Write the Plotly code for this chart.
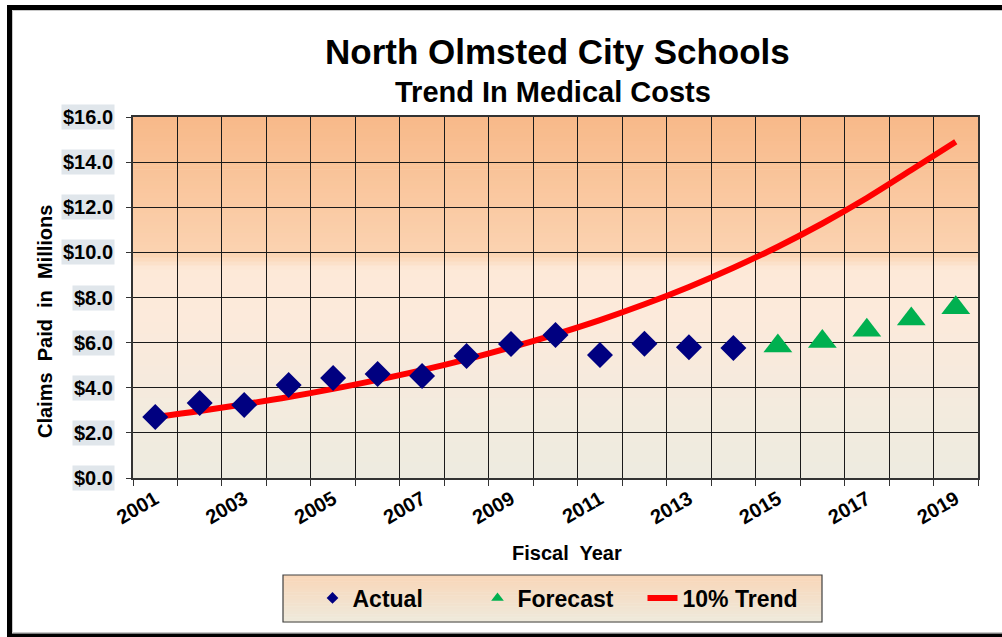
import plotly.graph_objects as go

# ---- data ----
years = list(range(2001, 2020))
actual_years = list(range(2001, 2015))
actual = [2.70, 3.32, 3.24, 4.12, 4.43, 4.61, 4.52, 5.41, 5.94, 6.34, 5.45, 5.95, 5.80, 5.76]
forecast_years = list(range(2015, 2020))
forecast = [5.85, 6.05, 6.55, 7.05, 7.55]
trend = [2.70, 2.97, 3.27, 3.59, 3.95, 4.35, 4.78, 5.26, 5.79, 6.37,
         7.00, 7.70, 8.47, 9.32, 10.25, 11.28, 12.41, 13.65, 14.90]
y_ticks = [0, 2, 4, 6, 8, 10, 12, 14, 16]
x_label_years = years[::2]

FONT = "Liberation Sans, Arial, sans-serif"
W, H = 1002, 637
PLOT_L, PLOT_R, PLOT_T, PLOT_B = 133, 978, 117, 478  # pixels of the plot area
L, T = PLOT_L, PLOT_T
R, B = W - PLOT_R, H - PLOT_B
PW, PH = W - L - R, H - T - B


def px_x(p):  # pixel -> paper x
    return (p - L) / PW


def px_y(p):  # pixel -> paper y
    return (H - B - p) / PH


def lerp(c1, c2, t):
    return tuple(round(a + (b - a) * t) for a, b in zip(c1, c2))


def grad(stops, t):
    for i in range(len(stops) - 1):
        t0, c0 = stops[i]
        t1, c1 = stops[i + 1]
        if t0 <= t <= t1:
            return lerp(c0, c1, (t - t0) / (t1 - t0) if t1 > t0 else 0)
    return stops[-1][1]


fig = go.Figure()

fig.add_trace(go.Scatter(x=years, y=trend, mode="lines", line=dict(color="#ff0000", width=6, shape="spline"),
                         showlegend=False, hoverinfo="skip"))
fig.add_trace(go.Scatter(x=actual_years, y=actual, mode="markers",
                         marker=dict(symbol="diamond", size=20, color="#000080"), showlegend=False))
fig.add_trace(go.Scatter(x=forecast_years, y=forecast, mode="markers",
                         marker=dict(symbol="triangle-up", size=25, color="#00b050"), showlegend=False))

# legend entries
fig.add_trace(go.Scatter(x=[None], y=[None], mode="markers", name="<b>Actual</b>",
                         marker=dict(symbol="diamond", size=9, color="#000080")))
fig.add_trace(go.Scatter(x=[None], y=[None], mode="markers", name="<b>Forecast</b>",
                         marker=dict(symbol="triangle-up", size=11, color="#00b050")))
fig.add_trace(go.Scatter(x=[None], y=[None], mode="lines", name="<b>10% Trend</b>",
                         line=dict(color="#ff0000", width=6)))

shapes = []
plot_stops = [(0.0, (248, 185, 137)), (0.38, (251, 211, 177)), (0.42, (253, 233, 216)),
              (0.55, (252, 234, 219)), (1.0, (237, 235, 224))]
N = 90
for i in range(N):
    t = (i + 0.5) / N
    c = grad(plot_stops, t)
    shapes.append(dict(type="rect", xref="x domain", yref="y domain", x0=0, x1=1,
                       y0=1 - (i + 1) / N - 0.002, y1=1 - i / N,
                       fillcolor="rgb(%d,%d,%d)" % c, line=dict(width=0), layer="below"))

lx0, lx1, ly0, ly1 = 283, 822, 575, 622
leg_stops = [(0.0, (249, 214, 184)), (1.0, (238, 234, 220))]
M = 30
for i in range(M):
    t = (i + 0.5) / M
    c = grad(leg_stops, t)
    top = ly0 + (ly1 - ly0) * i / M
    bot = ly0 + (ly1 - ly0) * (i + 1) / M + 0.5
    shapes.append(dict(type="rect", xref="paper", yref="paper", x0=px_x(lx0), x1=px_x(lx1),
                       y0=px_y(bot), y1=px_y(top), fillcolor="rgb(%d,%d,%d)" % c,
                       line=dict(width=0), layer="below"))
shapes.append(dict(type="rect", xref="paper", yref="paper", x0=px_x(lx0), x1=px_x(lx1),
                   y0=px_y(ly1), y1=px_y(ly0), line=dict(color="#404040", width=1.2)))


# outer frame: left, top, bottom edges only
def edge(xa, ya, xb, yb, color, width):
    return dict(type="line", xref="paper", yref="paper", x0=px_x(xa), y0=px_y(ya),
                x1=px_x(xb), y1=px_y(yb), line=dict(color=color, width=width))


shapes += [edge(12.5, 10.5, 1002, 10.5, "#c8c8c8", 1), edge(12.5, 10.5, 12.5, 632.5, "#c8c8c8", 1),
           edge(12.5, 632.5, 1002, 632.5, "#c8c8c8", 1),
           edge(7, 7.5, 1002, 7.5, "#000000", 5), edge(9.5, 5, 9.5, 637, "#000000", 5),
           edge(7, 635.5, 1002, 635.5, "#000000", 4)]

annotations = [
    dict(text="<b>North Olmsted City Schools</b>", x=px_x(557), y=px_y(52), xref="paper", yref="paper",
         showarrow=False, font=dict(family=FONT, size=35, color="#000"), xanchor="center", yanchor="middle"),
    dict(text="<b>Trend In Medical Costs</b>", x=px_x(553), y=px_y(92), xref="paper", yref="paper",
         showarrow=False, font=dict(family=FONT, size=29, color="#000"), xanchor="center", yanchor="middle"),
    dict(text="<b>Claims  Paid  in  Millions</b>", x=px_x(45), y=px_y(322), xref="paper", yref="paper",
         showarrow=False, textangle=-90, font=dict(family=FONT, size=20, color="#000"),
         xanchor="center", yanchor="middle"),
    dict(text="<b>Fiscal  Year</b>", x=px_x(567), y=px_y(553), xref="paper", yref="paper",
         showarrow=False, font=dict(family=FONT, size=20, color="#000"), xanchor="center", yanchor="middle"),
]
for v in y_ticks:
    annotations.append(dict(text="<b>$%.1f</b>" % v, x=px_x(115), y=v, xref="paper", yref="y",
                            showarrow=False, xanchor="right", yanchor="middle",
                            font=dict(family=FONT, size=20, color="#000"),
                            bgcolor="#e0e6eb", borderpad=1))

fig.update_layout(
    width=W, height=H, autosize=False,
    margin=dict(l=L, r=R, t=T, b=B),
    paper_bgcolor="white", plot_bgcolor="rgba(0,0,0,0)",
    shapes=shapes, annotations=annotations,
    showlegend=True,
    legend=dict(orientation="h", x=px_x(560), y=px_y(598), xanchor="center", yanchor="middle",
                bgcolor="rgba(0,0,0,0)", borderwidth=0, traceorder="normal",
                entrywidth=120, entrywidthmode="pixels",
                font=dict(family=FONT, size=23, color="#000"), itemsizing="trace"),
    xaxis=dict(range=[years[0] - 0.5, years[-1] + 0.5], tickmode="array", tickvals=x_label_years,
               ticktext=["<b>%d</b>" % y for y in x_label_years], tickangle=-30, ticks="",
               showgrid=False, zeroline=False, showline=True, mirror=True, linecolor="#333",
               linewidth=1.5, tickfont=dict(family=FONT, size=20, color="#000"),
               minor=dict(tickmode="array", tickvals=[y - 0.5 for y in years] + [years[-1] + 0.5],
                          ticks="outside", ticklen=6, tickcolor="#333", showgrid=True,
                          gridcolor="#1a1a1a", gridwidth=1.3)),
    yaxis=dict(range=[y_ticks[0], y_ticks[-1]], tickmode="array", tickvals=y_ticks, showticklabels=False,
               ticks="outside", ticklen=5, tickcolor="#333", showgrid=True, gridcolor="#1a1a1a",
               gridwidth=1.3, zeroline=False, showline=True, mirror=True, linecolor="#333", linewidth=1.5),
)

fig.write_html("out.html", config={"displayModeBar": False},
               post_script="document.documentElement.style.overflow='hidden';"
                           "document.body.style.overflow='hidden';"
                           "document.body.style.margin='0px';")
